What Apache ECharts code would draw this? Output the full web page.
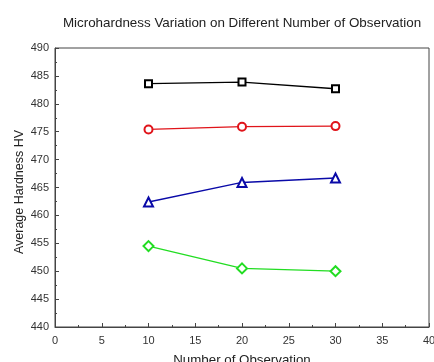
<!DOCTYPE html>
<html><head><meta charset="utf-8">
<script src="https://cdn.jsdelivr.net/npm/echarts@6/dist/echarts.min.js"></script>
<style>html,body{margin:0;padding:0;background:#fff}#c{width:434px;height:362px}</style>
</head><body><div id="c"></div>
<script>
const observations = [10, 20, 30];
const seriesBlack = [483.6, 483.9, 482.7];
const seriesRed = [475.4, 475.9, 476.0];
const seriesBlue = [462.4, 465.9, 466.7];
const seriesGreen = [454.5, 450.5, 450.0];
const chart = echarts.init(document.getElementById('c'));
const font = 'Liberation Sans, Arial, sans-serif';
function mk(vals, color, symbol, size) {
  return {
    type: 'line', data: observations.map((x, i) => [x, vals[i]]),
    symbol: symbol, symbolSize: size,
    showSymbol: true,
    lineStyle: { color: color, width: 1.3 },
    itemStyle: { color: '#fff', borderColor: color, borderWidth: 2 },
    emphasis: { disabled: true }, animation: false
  };
}
chart.setOption({
  animation: false,
  title: { text: 'Microhardness Variation on Different Number of Observation', left: 237, top: 12, textAlign: 'center',
    textStyle: { fontFamily: font, fontSize: 13.4, fontWeight: 'normal', color: '#222' } },
  grid: { left: 55, right: 5, top: 48, bottom: 35, show: true, borderColor: '#444', borderWidth: 1, outerBoundsMode: 'none', containLabel: false },
  xAxis: {
    type: 'value', min: 0, max: 40, interval: 5,
    name: 'Number of Observation', nameLocation: 'middle', nameGap: 27,
    nameTextStyle: { fontFamily: font, fontSize: 13.3, color: '#222' },
    axisLine: { lineStyle: { color: '#444' } },
    axisTick: { inside: true, length: 4, lineStyle: { color: '#444' } },
    minorTick: { show: true, splitNumber: 2, length: 2, lineStyle: { color: '#444' } },
    splitLine: { show: false },
    axisLabel: { fontFamily: font, fontSize: 11, color: '#333', margin: 8 }
  },
  yAxis: {
    type: 'value', min: 440, max: 490, interval: 5,
    name: 'Average Hardness HV', nameLocation: 'middle', nameGap: 29, nameRotate: 90, nameMoveOverlap: false,
    nameTextStyle: { fontFamily: font, fontSize: 12.5, color: '#222', padding: [0, 9, 0, 0] },
    axisLine: { show: true, lineStyle: { color: '#444' } },
    axisTick: { show: true, inside: true, length: 4, lineStyle: { color: '#444' } },
    minorTick: { show: true, splitNumber: 2, length: 2, lineStyle: { color: '#444' } },
    splitLine: { show: false },
    axisLabel: { fontFamily: font, fontSize: 11, color: '#333', margin: 6 }
  },
  series: [
    mk(seriesBlack, '#000000', 'rect', 7),
    mk(seriesRed, '#e0141a', 'circle', 8),
    mk(seriesBlue, '#0a0aa8', 'triangle', 9),
    mk(seriesGreen, '#22dd22', 'diamond', 10)
  ]
});
</script></body></html>
